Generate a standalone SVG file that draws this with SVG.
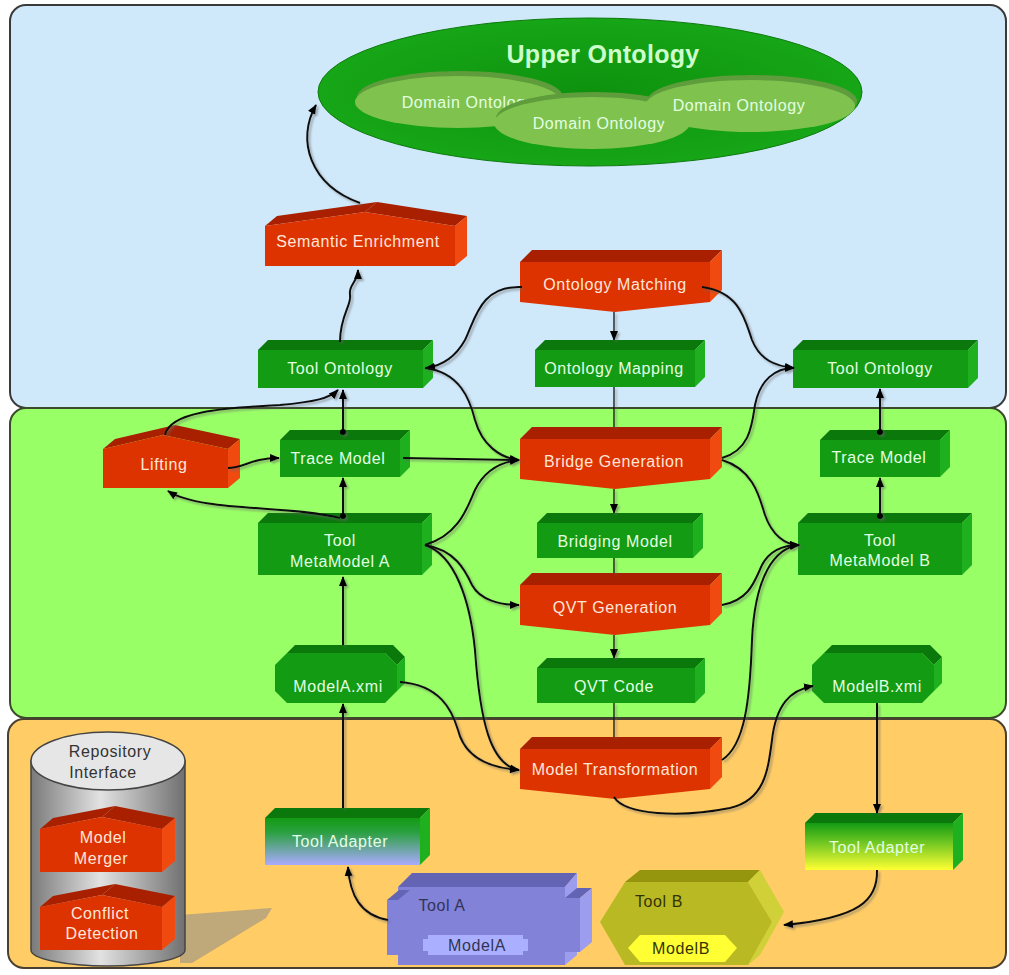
<svg xmlns="http://www.w3.org/2000/svg" width="1009" height="975" viewBox="0 0 1009 975">
<defs>
<style>
text{font-family:"Liberation Sans",Arial,sans-serif;font-size:16px;letter-spacing:0.6px;text-anchor:middle}
.gf{fill:#139b13}.gt{fill:#0a780a}.gs{fill:#1eb01e}
.rf{fill:#dd3300}.rt{fill:#a82000}.rs{fill:#f04a10}
.gtx{fill:#e2ffe2}.rtx{fill:#ffe6d9}
.pf{fill:#8282d8}.pt{fill:#6464b4}.ps{fill:#9d9df0}
.yf{fill:#b9b923}.yt{fill:#96960e}.ys{fill:#d0d038}
.dk{fill:#333355}
.con path{fill:none;stroke:#111;stroke-width:2}
.con path.thin{stroke-width:1.3}
.arr{marker-end:url(#ah)}
.dt{marker-start:url(#dot)}
</style>
<marker id="ah" viewBox="0 0 10 10" refX="9" refY="5" markerWidth="10" markerHeight="10" markerUnits="userSpaceOnUse" orient="auto"><path d="M0,1 L10,5 L0,9 Z" fill="#000"/></marker>
<marker id="dot" viewBox="0 0 6 6" refX="3" refY="3" markerWidth="6" markerHeight="6" markerUnits="userSpaceOnUse"><circle cx="3" cy="3" r="3" fill="#000"/></marker>
<filter id="sh" x="-10%" y="-10%" width="120%" height="120%"><feDropShadow dx="2" dy="2" stdDeviation="0.8" flood-color="#666" flood-opacity="0.55"/></filter>
<linearGradient id="gTAL" x1="0" y1="0" x2="0" y2="1"><stop offset="0" stop-color="#139b13"/><stop offset="0.3" stop-color="#2aa040"/><stop offset="1" stop-color="#aaaaff"/></linearGradient>
<linearGradient id="gTAR" x1="0" y1="0" x2="0" y2="1"><stop offset="0" stop-color="#139b13"/><stop offset="0.35" stop-color="#60c020"/><stop offset="1" stop-color="#ffff33"/></linearGradient>
<linearGradient id="cyl" x1="0" y1="0" x2="1" y2="0"><stop offset="0" stop-color="#7a7a7a"/><stop offset="0.45" stop-color="#e2e2e2"/><stop offset="1" stop-color="#707070"/></linearGradient>
<radialGradient id="upper" cx="0.5" cy="0.5" r="0.6"><stop offset="0" stop-color="#0e920e"/><stop offset="1" stop-color="#18aa18"/></radialGradient>
</defs>

<!-- panels -->
<rect x="10" y="5" width="996" height="403" rx="16" fill="#cfe8fa" stroke="#3a3a3a" stroke-width="2"/>
<rect x="10" y="408" width="996" height="310" rx="16" fill="#99ff66" stroke="#3a4a2a" stroke-width="2"/>
<rect x="8" y="719" width="998" height="249" rx="16" fill="#ffcc66" stroke="#4a4030" stroke-width="2"/>

<!-- Upper ontology -->
<g id="upper-ontology">
<ellipse cx="590" cy="92" rx="272" ry="74" fill="url(#upper)" stroke="#0c7a0c" stroke-width="1"/>
<text x="603" y="63" style="font-size:25px;font-weight:bold;letter-spacing:0.3px;fill:#ccffcc">Upper Ontology</text>
<g id="domain-1"><ellipse cx="460" cy="97" rx="103" ry="26" fill="#5e9c3c"/><ellipse cx="458" cy="102" rx="103" ry="26" fill="#80c24e"/><text x="468" y="108" class="gtx">Domain Ontology</text></g>
<g id="domain-2"><ellipse cx="594" cy="118" rx="98" ry="26" fill="#5e9c3c"/><ellipse cx="592" cy="123" rx="98" ry="26" fill="#80c24e"/><text x="599" y="129" class="gtx">Domain Ontology</text></g>
<g id="domain-3"><ellipse cx="752" cy="101" rx="105" ry="26" fill="#5e9c3c"/><ellipse cx="750" cy="106" rx="105" ry="26" fill="#80c24e"/><text x="739" y="111" class="gtx">Domain Ontology</text></g>
</g>

<!-- red house nodes -->
<g id="semantic-enrichment">
<g transform="translate(265,202)"><polygon class="rt" points="0,24 100,10 112,0 12,14"/><polygon class="rt" points="100,10 190,24 202,14 112,0"/><polygon class="rs" points="190,24 202,14 202,54 190,64"/><polygon class="rf" points="0,24 100,10 190,24 190,64 0,64"/></g>
<text x="358" y="247" class="rtx">Semantic Enrichment</text>
</g>
<g id="lifting">
<g transform="translate(103,425)"><polygon class="rt" points="0,24 60,10 72,0 12,14"/><polygon class="rt" points="60,10 125,24 137,14 72,0"/><polygon class="rs" points="125,24 137,14 137,53 125,63"/><polygon class="rf" points="0,24 60,10 125,24 125,63 0,63"/></g>
<text x="164" y="470" class="rtx">Lifting</text>
</g>

<!-- red V nodes -->
<g id="ontology-matching">
<g transform="translate(520,250)"><polygon class="rt" points="0,12 12,0 202,0 190,12"/><polygon class="rs" points="190,12 202,0 202,40 190,52"/><polygon class="rf" points="0,12 190,12 190,52 95,62 0,52"/></g>
<text x="615" y="290" class="rtx">Ontology Matching</text>
</g>
<g id="bridge-generation">
<g transform="translate(520,427)"><polygon class="rt" points="0,12 12,0 202,0 190,12"/><polygon class="rs" points="190,12 202,0 202,40 190,52"/><polygon class="rf" points="0,12 190,12 190,52 95,62 0,52"/></g>
<text x="614" y="467" class="rtx">Bridge Generation</text>
</g>
<g id="qvt-generation">
<g transform="translate(520,573)"><polygon class="rt" points="0,12 12,0 202,0 190,12"/><polygon class="rs" points="190,12 202,0 202,40 190,52"/><polygon class="rf" points="0,12 190,12 190,52 95,62 0,52"/></g>
<text x="615" y="613" class="rtx">QVT Generation</text>
</g>
<g id="model-transformation">
<g transform="translate(520,737)"><polygon class="rt" points="0,12 12,0 202,0 190,12"/><polygon class="rs" points="190,12 202,0 202,40 190,52"/><polygon class="rf" points="0,12 190,12 190,52 95,62 0,52"/></g>
<text x="615" y="775" class="rtx">Model Transformation</text>
</g>

<!-- green box nodes -->
<g id="tool-ontology-a">
<g transform="translate(258,340)"><polygon class="gt" points="0,10 10,0 175,0 165,10"/><polygon class="gs" points="165,10 175,0 175,38 165,48"/><rect class="gf" x="0" y="10" width="165" height="38"/></g>
<text x="340" y="374" class="gtx">Tool Ontology</text>
</g>
<g id="ontology-mapping">
<g transform="translate(535,340)"><polygon class="gt" points="0,10 10,0 170,0 160,10"/><polygon class="gs" points="160,10 170,0 170,37 160,47"/><rect class="gf" x="0" y="10" width="160" height="37"/></g>
<text x="614" y="374" class="gtx">Ontology Mapping</text>
</g>
<g id="tool-ontology-b">
<g transform="translate(793,340)"><polygon class="gt" points="0,10 10,0 185,0 175,10"/><polygon class="gs" points="175,10 185,0 185,38 175,48"/><rect class="gf" x="0" y="10" width="175" height="38"/></g>
<text x="880" y="374" class="gtx">Tool Ontology</text>
</g>
<g id="trace-model-a">
<g transform="translate(280,430)"><polygon class="gt" points="0,10 10,0 130,0 120,10"/><polygon class="gs" points="120,10 130,0 130,37 120,47"/><rect class="gf" x="0" y="10" width="120" height="37"/></g>
<text x="338" y="464" class="gtx">Trace Model</text>
</g>
<g id="trace-model-b">
<g transform="translate(820,430)"><polygon class="gt" points="0,10 10,0 130,0 120,10"/><polygon class="gs" points="120,10 130,0 130,37 120,47"/><rect class="gf" x="0" y="10" width="120" height="37"/></g>
<text x="879" y="463" class="gtx">Trace Model</text>
</g>
<g id="tool-metamodel-a">
<g transform="translate(258,513)"><polygon class="gt" points="0,10 10,0 174,0 164,10"/><polygon class="gs" points="164,10 174,0 174,52 164,62"/><rect class="gf" x="0" y="10" width="164" height="52"/></g>
<text x="340" y="546" class="gtx">Tool</text><text x="340" y="567" class="gtx">MetaModel A</text>
</g>
<g id="bridging-model">
<g transform="translate(537,513)"><polygon class="gt" points="0,10 10,0 166,0 156,10"/><polygon class="gs" points="156,10 166,0 166,35 156,45"/><rect class="gf" x="0" y="10" width="156" height="35"/></g>
<text x="615" y="547" class="gtx">Bridging Model</text>
</g>
<g id="tool-metamodel-b">
<g transform="translate(798,513)"><polygon class="gt" points="0,10 10,0 174,0 164,10"/><polygon class="gs" points="164,10 174,0 174,52 164,62"/><rect class="gf" x="0" y="10" width="164" height="52"/></g>
<text x="880" y="546" class="gtx">Tool</text><text x="880" y="566" class="gtx">MetaModel B</text>
</g>
<g id="qvt-code">
<g transform="translate(537,658)"><polygon class="gt" points="0,10 10,0 168,0 158,10"/><polygon class="gs" points="158,10 168,0 168,35 158,45"/><rect class="gf" x="0" y="10" width="158" height="35"/></g>
<text x="614" y="692" class="gtx">QVT Code</text>
</g>
<g id="modela-xmi">
<g transform="translate(275,645)"><polygon class="gt" points="0,20 12,8 110,8 122,20 130,12 118,0 20,0 8,12"/><polygon class="gs" points="122,20 130,12 130,38 118,50 110,58 122,46"/><polygon class="gf" points="12,8 110,8 122,20 122,46 110,58 12,58 0,46 0,20"/></g>
<text x="338" y="692" class="gtx">ModelA.xmi</text>
</g>
<g id="modelb-xmi">
<g transform="translate(812,645)"><polygon class="gt" points="0,20 12,8 110,8 122,20 130,12 118,0 20,0 8,12"/><polygon class="gs" points="122,20 130,12 130,38 118,50 110,58 122,46"/><polygon class="gf" points="12,8 110,8 122,20 122,46 110,58 12,58 0,46 0,20"/></g>
<text x="877" y="692" class="gtx">ModelB.xmi</text>
</g>
<g id="tool-adapter-a">
<g transform="translate(265,808)"><polygon class="gt" points="0,10 10,0 165,0 155,10"/><polygon class="gs" points="155,10 165,0 165,47 155,57"/><rect x="0" y="10" width="155" height="47" fill="url(#gTAL)"/></g>
<text x="340" y="847" class="gtx">Tool Adapter</text>
</g>
<g id="tool-adapter-b">
<g transform="translate(805,813)"><polygon class="gt" points="0,10 10,0 158,0 148,10"/><polygon class="gs" points="148,10 158,0 158,47 148,57"/><rect x="0" y="10" width="148" height="47" fill="url(#gTAR)"/></g>
<text x="877" y="853" class="gtx">Tool Adapter</text>
</g>

<!-- Tool A -->
<g id="tool-a">
<polygon class="pt" points="398,887 412,873 577,873 565,887"/>
<polygon class="ps" points="565,887 577,873 577,955 565,965"/>
<rect class="pf" x="398" y="887" width="167" height="78"/>
<polygon class="pt" points="387,900 399,890 410,890 398,900"/>
<rect class="pf" x="387" y="900" width="12" height="55"/>
<polygon class="pt" points="565,898 577,888 592,888 580,898"/>
<polygon class="ps" points="580,898 592,888 592,942 580,952"/>
<rect class="pf" x="565" y="898" width="15" height="54"/>
<text x="442" y="911" class="dk">Tool A</text>
<polygon fill="#aab0ff" points="428,935 523,935 523,939 528,939 528,951 523,951 523,955 428,955 428,951 423,951 423,939 428,939"/>
<text x="477" y="951" class="dk">ModelA</text>
</g>

<!-- Tool B -->
<g id="tool-b">
<polygon class="yt" points="625,882 640,870 760,870 748,882"/>
<polygon class="ys" points="748,882 760,870 784,912 772,922"/>
<polygon class="ys" points="772,922 784,912 760,955 748,965"/>
<polygon class="yf" points="600,922 625,882 748,882 772,922 748,965 625,965"/>
<text x="659" y="907" fill="#333300">Tool B</text>
<polygon fill="#ffff33" points="628,948 640,935 725,935 737,948 725,962 640,962"/>
<text x="681" y="954" fill="#333300">ModelB</text>
</g>

<!-- Repository -->
<g id="repository-interface">
<polygon points="180,915 272,908 266,918 192,963 180,963" fill="#8a8a8a" opacity="0.55"/>
<path d="M31 761 L31 950 A77 16 0 0 0 185 950 L185 761 Z" fill="url(#cyl)" stroke="#444" stroke-width="1.5"/>
<ellipse cx="108" cy="761" rx="77" ry="29" fill="#e6e6e6" stroke="#444" stroke-width="1.5"/>
<text x="110" y="757" fill="#333">Repository</text>
<text x="103" y="778" fill="#333">Interface</text>
</g>
<g id="model-merger">
<g transform="translate(40,805)"><polygon class="rt" points="0,24 62,12 75,1 13,13"/><polygon class="rt" points="62,12 122,24 135,13 75,1"/><polygon class="rs" points="122,24 135,13 135,56 122,67"/><polygon class="rf" points="0,24 62,12 122,24 122,67 0,67"/></g>
<text x="103" y="843" class="rtx">Model</text><text x="101" y="864" class="rtx">Merger</text>
</g>
<g id="conflict-detection">
<g transform="translate(40,883)"><polygon class="rt" points="0,24 62,12 75,1 13,13"/><polygon class="rt" points="62,12 122,24 135,13 75,1"/><polygon class="rs" points="122,24 135,13 135,56 122,67"/><polygon class="rf" points="0,24 62,12 122,24 122,67 0,67"/></g>
<text x="100" y="919" class="rtx">Conflict</text><text x="102" y="939" class="rtx">Detection</text>
</g>

<!-- connectors -->
<g id="connectors" class="con" filter="url(#sh)">
<path class="arr" d="M360 203 C310 185 296 140 316 105"/>
<path class="arr" d="M340 342 C340 315 352 305 350 295 C348 285 358 282 358 270"/>
<path class="arr" d="M522 287 C480 285 475 320 465 340 C455 358 440 366 426 368"/>
<path class="arr" d="M425 368 C460 372 470 400 475 420 C482 445 500 458 519 460"/>
<path class="arr" d="M403 458 L519 460"/>
<path class="arr" d="M425 545 C460 535 468 505 475 490 C485 470 500 462 519 460"/>
<path class="arr" d="M425 545 C455 550 465 570 472 585 C480 600 500 605 519 605"/>
<path class="arr" d="M425 545 C455 555 470 600 475 650 C480 720 490 765 519 770"/>
<path class="arr" d="M400 682 C440 685 452 710 458 730 C465 758 490 768 519 770"/>
<path class="arr" d="M702 287 C740 292 745 320 752 340 C760 360 775 366 794 368"/>
<path class="arr" d="M722 458 C750 450 752 425 755 405 C760 380 775 368 794 368"/>
<path class="arr" d="M722 460 C755 470 760 500 765 515 C772 535 785 545 799 545"/>
<path class="arr" d="M722 605 C750 600 755 580 762 565 C770 550 785 545 799 545"/>
<path class="arr" d="M722 760 C745 745 750 700 752 640 C755 575 775 548 799 545"/>
<path class="arr" d="M614 797 C625 815 680 818 730 808 C765 800 768 770 772 740 C776 705 790 690 813 686"/>
<path class="arr" d="M877 703 L877 813"/>
<path class="arr" d="M877 870 C878 900 860 918 784 925"/>
<path class="arr" d="M388 920 C360 915 350 895 348 867"/>
<path class="arr" d="M343 808 L343 704"/>
<path class="arr" d="M343 645 L343 577"/>
<path class="arr dt" d="M343 516 L343 478"/>
<path class="arr dt" d="M343 432 L343 390"/>
<path class="arr" d="M165 435 C170 410 230 408 280 405 C315 402 330 398 338 390"/>
<path class="arr" d="M228 468 C245 468 250 458 279 458"/>
<path class="arr" d="M340 518 C290 505 200 512 168 491"/>
<path class="arr thin" d="M614 312 L614 340"/>
<path class="thin" d="M614 387 L614 427"/>
<path class="arr thin" d="M614 489 L614 513"/>
<path class="thin" d="M614 558 L614 573"/>
<path class="arr thin" d="M614 635 L614 658"/>
<path class="thin" d="M614 703 L614 737"/>
<path class="arr dt" d="M880 432 L880 389"/>
<path class="arr dt" d="M880 516 L880 478"/>
</g>
</svg>
